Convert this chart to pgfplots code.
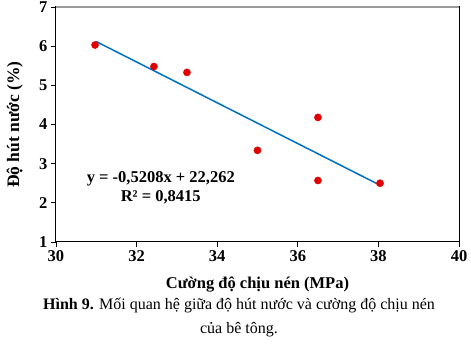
\documentclass[border=0pt]{standalone}
\usepackage{fontspec}
\setmainfont{Liberation Serif}
\usepackage{pgfplots}
\pgfplotsset{compat=1.18}
\definecolor{trend}{RGB}{0,112,192}
\definecolor{pt}{RGB}{224,0,0}
\begin{document}
\begin{tikzpicture}[x=1pt,y=1pt]
\path[use as bounding box] (-56,-113) rectangle (415,242);
\begin{axis}[
  at={(0,0)}, anchor=south west,
  scale only axis, width=403pt, height=235pt,
  xmin=30, xmax=40, ymin=1, ymax=7,
  xtick={30,32,...,40}, ytick={1,...,7},
  tick pos=left, tick align=outside,
  major tick length=5pt,
  axis line style={black, line width=1pt},
  tick style={black, line width=0.8pt},
  /pgf/number format/assume math mode=true,
  ticklabel style={font=\fontsize{16.5}{16.5}\selectfont\bfseries},
  xlabel={Cường độ chịu nén (MPa)},
  ylabel={Độ hút nước (\%)},
  xlabel style={font=\fontsize{16.5}{16.5}\selectfont\bfseries, at={(axis description cs:0.5,-0.183)}, anchor=center},
  ylabel style={font=\fontsize{17.5}{17.5}\selectfont\bfseries, at={(axis description cs:-0.102,0.5)}, anchor=center},
  clip=false,
]
\addplot[color=trend, line width=1.5pt] coordinates {(31,6.117) (38.05,2.445)};
\addplot[only marks, mark=*, mark size=3.6pt, color=pt] coordinates {
(30.97,6.03) (32.43,5.48) (33.25,5.33) (35.0,3.34) (36.5,4.18) (36.5,2.57) (38.04,2.50)};
\node[font=\fontsize{16.5}{16.5}\selectfont\bfseries] at (axis cs:32.6,2.61) {y = -0,5208x + 22,262};
\node[font=\fontsize{16.5}{16.5}\selectfont\bfseries] at (axis cs:32.6,2.15) {R² = 0,8415};
\draw[gray!80, line width=1.2pt] (rel axis cs:0,1) -- (rel axis cs:1,1);
\end{axis}
\node[font=\fontsize{16}{16}\selectfont] at (183,-63) {\textbf{Hình 9.} Mối quan hệ giữa độ hút nước và cường độ chịu nén};
\node[font=\fontsize{16}{16}\selectfont] at (183,-88) {của bê tông.};
\end{tikzpicture}
\end{document}
